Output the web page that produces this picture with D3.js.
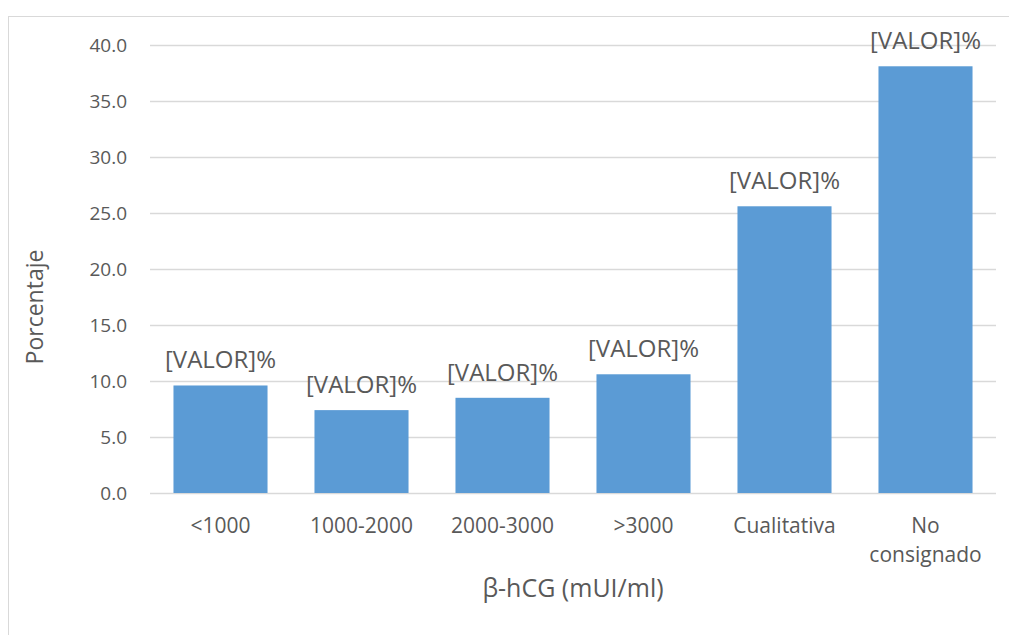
<!DOCTYPE html>
<html>
<head>
<meta charset="utf-8">
<script src="https://cdn.jsdelivr.net/npm/d3@7"></script>
<style>
  html, body { margin: 0; padding: 0; background: #fff; }
  svg { display: block; font-family: "Open Sans", sans-serif; }
</style>
</head>
<body>
<div id="chart"></div>
<script>
// Data.
var categories = [['<1000'], ['1000-2000'], ['2000-3000'], ['>3000'], ['Cualitativa'], ['No', 'consignado']];
var values = [9.6, 7.4, 8.5, 10.6, 25.6, 38.1];
var yTicks = [0, 5, 10, 15, 20, 25, 30, 35, 40];
var barLabel = '[VALOR]%';

var width = 1009, height = 635;
var plot = { left: 150, right: 996, top: 45, bottom: 493 };
var textColor = '#595959';
var font = '"Open Sans", sans-serif';

var svg = d3.select('#chart').append('svg')
    .attr('width', width)
    .attr('height', height);

// Chart frame (right/bottom edges fall outside the view).
svg.append('rect')
    .attr('x', 8.5).attr('y', 16.5)
    .attr('width', 1100).attr('height', 700)
    .attr('fill', 'none')
    .attr('stroke', '#d9d9d9');

var x = d3.scaleBand()
    .domain(d3.range(categories.length))
    .range([plot.left, plot.right])
    .paddingInner(0.333)
    .paddingOuter(0.1665);

var y = d3.scaleLinear()
    .domain([0, 40])
    .range([plot.bottom, plot.top]);

// Gridlines and y tick labels.
var yAxis = svg.append('g')
    .attr('transform', 'translate(' + plot.left + ',0)')
    .call(d3.axisLeft(y).tickValues(yTicks).tickFormat(d3.format('.1f'))
        .tickSize(-(plot.right - plot.left)).tickPadding(23));
yAxis.attr('font-family', font).attr('font-size', 19);
yAxis.select('.domain').remove();
yAxis.selectAll('.tick line').attr('stroke', '#d9d9d9').attr('stroke-width', 1.3);
yAxis.selectAll('.tick text').attr('fill', textColor);

// Bars.
svg.selectAll('.bar')
    .data(values)
    .enter()
    .append('rect')
    .attr('class', 'bar')
    .attr('x', function(d, i) { return x(i); })
    .attr('y', function(d) { return y(d); })
    .attr('width', x.bandwidth())
    .attr('height', function(d) { return y(0) - y(d); })
    .attr('fill', '#5b9bd5');

// Bar labels.
svg.selectAll('.bar-label')
    .data(values)
    .enter()
    .append('text')
    .attr('class', 'bar-label')
    .attr('x', function(d, i) { return x(i) + x.bandwidth() / 2; })
    .attr('y', function(d) { return y(d) - 17; })
    .attr('text-anchor', 'middle')
    .attr('fill', textColor)
    .style('font-size', '24px')
    .text(barLabel);

// Category labels.
var cat = svg.selectAll('.cat')
    .data(categories)
    .enter()
    .append('text')
    .attr('class', 'cat')
    .attr('text-anchor', 'middle')
    .attr('fill', textColor)
    .style('font-size', '21px');
cat.selectAll('tspan')
    .data(function(d, i) { return d.map(function(t) { return { t: t, i: i }; }); })
    .enter()
    .append('tspan')
    .attr('x', function(d) { return x(d.i) + x.bandwidth() / 2; })
    .attr('y', function(d, j) { return 533 + j * 29; })
    .text(function(d) { return d.t; });

// Axis titles.
svg.append('text')
    .attr('x', (plot.left + plot.right) / 2)
    .attr('y', 597)
    .attr('text-anchor', 'middle')
    .attr('fill', textColor)
    .style('font-size', '25px')
    .text('β-hCG (mUI/ml)');

svg.append('text')
    .attr('transform', 'translate(43,307) rotate(-90)')
    .attr('text-anchor', 'middle')
    .attr('fill', textColor)
    .style('font-size', '23px')
    .text('Porcentaje');
</script>
</body>
</html>
